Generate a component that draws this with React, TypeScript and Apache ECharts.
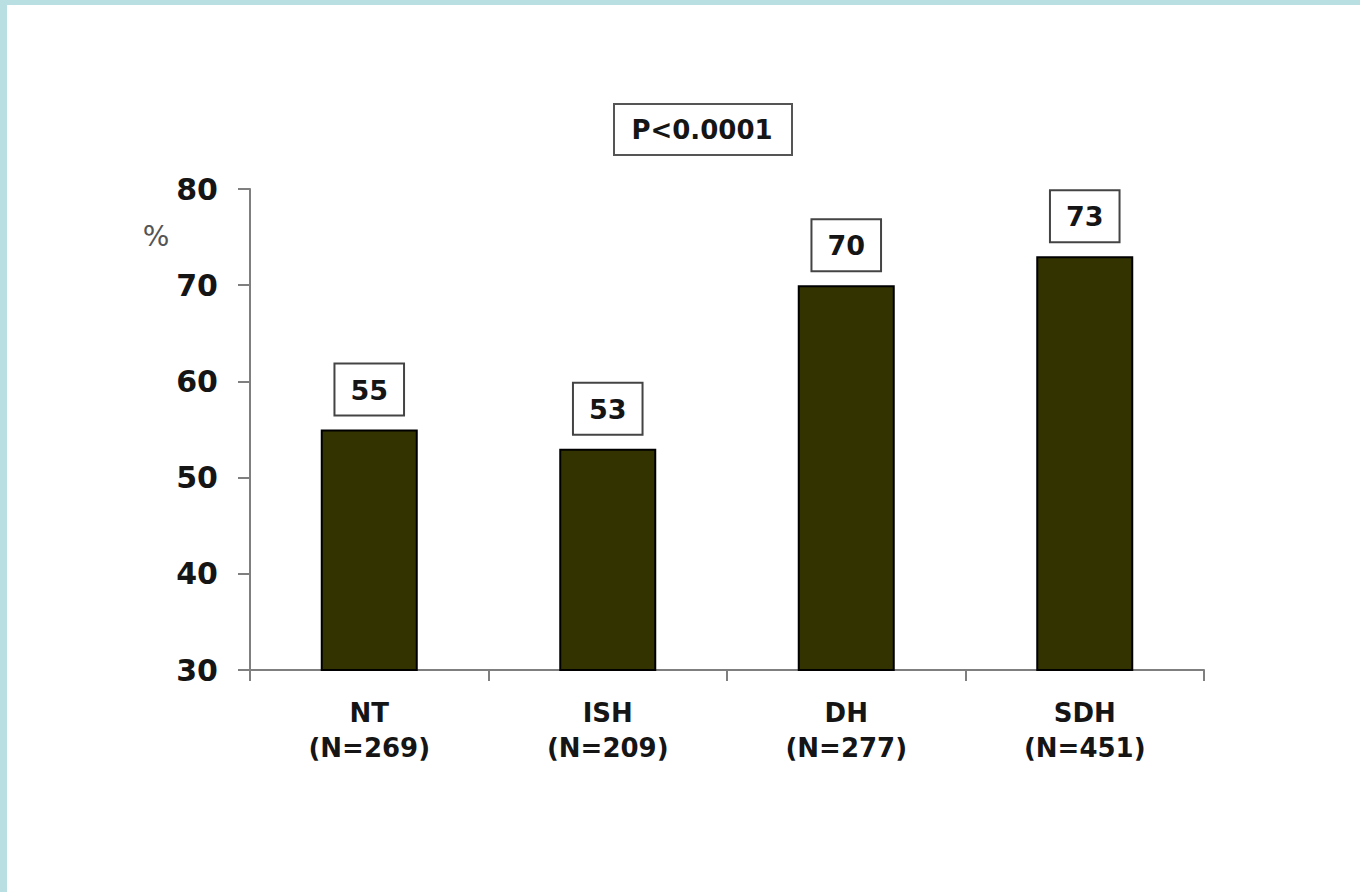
import React, { useEffect, useRef } from "react";
import * as echarts from "echarts";

const categories = ["NT\n(N=269)", "ISH\n(N=209)", "DH\n(N=277)", "SDH\n(N=451)"];
const values = [55, 53, 70, 73];
const yTicks = [30, 40, 50, 60, 70, 80];
const pValueText = "P<0.0001";
const unitText = "%";

const FONT = "'DejaVu Sans', 'Liberation Sans', Arial, sans-serif";

export default function App() {
  const ref = useRef<HTMLDivElement>(null);
  useEffect(() => {
    document.body.style.margin = "0";
    const chart = echarts.init(ref.current!, null, { renderer: "svg" });
    chart.setOption({
      animation: false,
      backgroundColor: "#ffffff",
      textStyle: { fontFamily: FONT },
      grid: { left: 250, top: 189, width: 954, height: 481, containLabel: false },
      xAxis: {
        type: "category",
        data: categories,
        axisLine: { lineStyle: { color: "#7f7f7f", width: 2 } },
        axisTick: { show: true, alignWithLabel: false, length: 11, lineStyle: { color: "#7f7f7f", width: 2 } },
        axisLabel: {
          color: "#151515",
          fontFamily: FONT,
          fontWeight: "bold",
          fontSize: 26,
          lineHeight: 35,
          margin: 25,
        },
      },
      yAxis: {
        type: "value",
        min: yTicks[0],
        max: yTicks[yTicks.length - 1],
        interval: 10,
        splitLine: { show: false },
        axisLine: { show: true, lineStyle: { color: "#7f7f7f", width: 2 } },
        axisTick: { show: true, length: 12, lineStyle: { color: "#7f7f7f", width: 2 } },
        axisLabel: {
          color: "#151515",
          fontFamily: FONT,
          fontWeight: "bold",
          fontSize: 30,
          margin: 32,
        },
      },
      series: [
        {
          type: "bar",
          data: values,
          barWidth: 97,
          itemStyle: { color: "#333300", borderColor: "#000000", borderWidth: 2 },
          label: {
            show: true,
            position: "top",
            distance: 15,
            color: "#151515",
            fontFamily: FONT,
            fontWeight: "bold",
            fontSize: 27,
            backgroundColor: "#ffffff",
            borderColor: "#444444",
            borderWidth: 2,
            padding: [12, 15, 11, 15],
          },
        },
      ],
      graphic: [
        { type: "rect", shape: { x: 0, y: 0, width: 1360, height: 5 }, style: { fill: "#b9dfe2" } },
        { type: "rect", shape: { x: 0, y: 0, width: 7, height: 892 }, style: { fill: "#b9dfe2" } },
        {
          type: "rect",
          shape: { x: 614, y: 104, width: 178, height: 51 },
          style: { fill: "#ffffff", stroke: "#555555", lineWidth: 2 },
        },
        {
          type: "text",
          x: 702,
          y: 130,
          style: {
            text: pValueText,
            fill: "#151515",
            font: `bold 26px ${FONT}`,
            textAlign: "center",
            textVerticalAlign: "middle",
          },
        },
        {
          type: "text",
          x: 156,
          y: 236,
          style: {
            text: unitText,
            fill: "#555555",
            font: `28px ${FONT}`,
            textAlign: "center",
            textVerticalAlign: "middle",
          },
        },
      ],
    });
    return () => chart.dispose();
  }, []);
  return <div ref={ref} style={{ position: "absolute", left: 0, top: 0, width: 1360, height: 892 }} />;
}
